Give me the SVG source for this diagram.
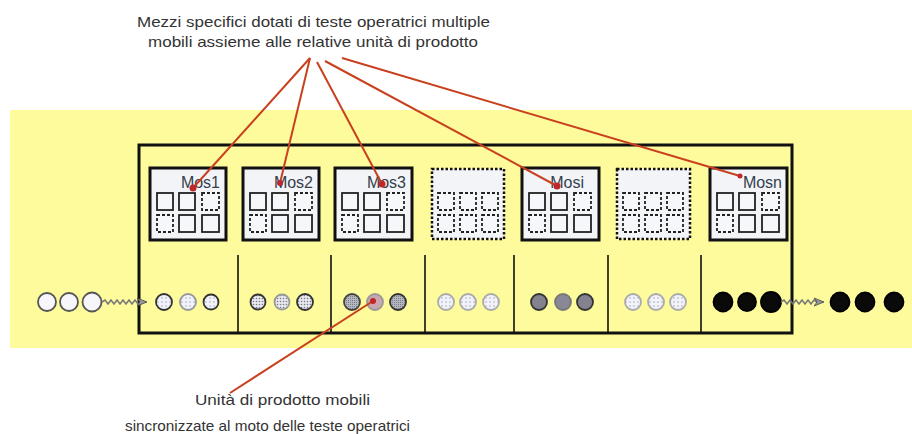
<svg xmlns="http://www.w3.org/2000/svg" width="912" height="434" viewBox="0 0 912 434">
<defs>
<style>
.t{font-family:"Liberation Sans",Arial,sans-serif;font-size:15px;fill:#333}
.lbl{font-family:"Liberation Sans",Arial,sans-serif;font-size:16px;fill:#34404c}
.mos{fill:#f3f4f8;stroke:#111;stroke-width:3}
.mosd{fill:#f3f4f8;stroke:#111;stroke-width:2.5;stroke-dasharray:2.5 2}
.sq{fill:#f6f7fa;stroke:#222;stroke-width:1.8}
.sqd{fill:#f6f7fa;stroke:#222;stroke-width:1.8;stroke-dasharray:3 2}
.red{stroke:#c8401e;stroke-width:2;fill:none}
.dot{fill:#c02828}
.div{stroke:#111;stroke-width:1.6}
</style>
<pattern id="pDot" width="4" height="4" patternUnits="userSpaceOnUse"><rect width="4" height="4" fill="#f2f2fa"/><circle cx="2" cy="2" r="0.7" fill="#9a9ab0"/></pattern>
<pattern id="pDot2" width="3" height="3" patternUnits="userSpaceOnUse"><rect width="3" height="3" fill="#e8e8ee"/><circle cx="1.5" cy="1.5" r="0.8" fill="#7a7a88"/></pattern>
<pattern id="pGrid" width="2" height="2" patternUnits="userSpaceOnUse"><rect width="2" height="2" fill="#b4b6c0"/><rect width="1" height="1" fill="#7c7e88"/></pattern>
<marker id="ah" viewBox="0 0 10 10" refX="9" refY="5" markerWidth="10" markerHeight="10" orient="auto" markerUnits="userSpaceOnUse"><path d="M0,1 L10,5 L0,9 L3,5 Z" fill="#9a9a9a" stroke="#444" stroke-width="0.8"/></marker>
</defs>
<rect width="912" height="434" fill="#ffffff"/>
<rect x="10" y="110" width="902" height="238" fill="#fdfb9c"/>

<g id="top-label">
<text class="t" x="137" y="27" textLength="353" lengthAdjust="spacingAndGlyphs">Mezzi specifici dotati di teste operatrici multiple</text>
<text class="t" x="148" y="47" textLength="330" lengthAdjust="spacingAndGlyphs">mobili assieme alle relative unità di prodotto</text>
</g>
<g id="bottom-label">
<text class="t" x="195" y="405" textLength="175" lengthAdjust="spacingAndGlyphs">Unità di prodotto mobili</text>
<text class="t" x="125" y="431" textLength="285" lengthAdjust="spacingAndGlyphs">sincronizzate al moto delle teste operatrici</text>
</g>

<g id="station-frame">
<rect x="139" y="145" width="653" height="188" fill="none" stroke="#111" stroke-width="3"/>
<line class="div" x1="238" y1="255" x2="238" y2="333"/>
<line class="div" x1="331" y1="255" x2="331" y2="333"/>
<line class="div" x1="425" y1="255" x2="425" y2="333"/>
<line class="div" x1="514" y1="255" x2="514" y2="333"/>
<line class="div" x1="608" y1="255" x2="608" y2="333"/>
<line class="div" x1="701" y1="255" x2="701" y2="333"/>
</g>

<g id="mos1">
<rect class="mos" x="150" y="168" width="76" height="72"/>
<text class="lbl" x="220" y="188" text-anchor="end">Mos1</text>
<rect class="sq" x="157" y="193" width="16" height="17"/><rect class="sq" x="179" y="193" width="16" height="17"/><rect class="sqd" x="202" y="193" width="17" height="17"/>
<rect class="sqd" x="157" y="215" width="16" height="17"/><rect class="sq" x="179" y="215" width="16" height="17"/><rect class="sq" x="202" y="215" width="17" height="17"/>
</g>
<g id="mos2">
<rect class="mos" x="243" y="168" width="76" height="72"/>
<text class="lbl" x="313" y="188" text-anchor="end">Mos2</text>
<rect class="sq" x="250" y="193" width="16" height="17"/><rect class="sq" x="272" y="193" width="16" height="17"/><rect class="sqd" x="295" y="193" width="17" height="17"/>
<rect class="sqd" x="250" y="215" width="16" height="17"/><rect class="sq" x="272" y="215" width="16" height="17"/><rect class="sq" x="295" y="215" width="17" height="17"/>
</g>
<g id="mos3">
<rect class="mos" x="335" y="168" width="77" height="72"/>
<text class="lbl" x="406" y="188" text-anchor="end">Mos3</text>
<rect class="sq" x="342" y="193" width="16" height="17"/><rect class="sq" x="364" y="193" width="16" height="17"/><rect class="sqd" x="387" y="193" width="17" height="17"/>
<rect class="sqd" x="342" y="215" width="16" height="17"/><rect class="sq" x="364" y="215" width="16" height="17"/><rect class="sq" x="387" y="215" width="17" height="17"/>
</g>
<g id="slot4">
<rect class="mosd" x="432" y="169" width="72" height="70"/>
<rect class="sqd" x="438" y="193" width="16" height="17"/><rect class="sqd" x="460" y="193" width="16" height="17"/><rect class="sqd" x="482" y="193" width="16" height="17"/>
<rect class="sqd" x="438" y="215" width="16" height="17"/><rect class="sqd" x="460" y="215" width="16" height="17"/><rect class="sqd" x="482" y="215" width="16" height="17"/>
</g>
<g id="mosi">
<rect class="mos" x="522" y="168" width="77" height="72"/>
<text class="lbl" x="584" y="188" text-anchor="end">Mosi</text>
<rect class="sq" x="529" y="193" width="16" height="17"/><rect class="sq" x="551" y="193" width="16" height="17"/><rect class="sqd" x="574" y="193" width="17" height="17"/>
<rect class="sqd" x="529" y="215" width="16" height="17"/><rect class="sq" x="551" y="215" width="16" height="17"/><rect class="sq" x="574" y="215" width="17" height="17"/>
</g>
<g id="slot6">
<rect class="mosd" x="617" y="169" width="73" height="70"/>
<rect class="sqd" x="623" y="193" width="16" height="17"/><rect class="sqd" x="645" y="193" width="16" height="17"/><rect class="sqd" x="667" y="193" width="16" height="17"/>
<rect class="sqd" x="623" y="215" width="16" height="17"/><rect class="sqd" x="645" y="215" width="16" height="17"/><rect class="sqd" x="667" y="215" width="16" height="17"/>
</g>
<g id="mosn">
<rect class="mos" x="710" y="168" width="77" height="72"/>
<text class="lbl" x="782" y="188" text-anchor="end">Mosn</text>
<rect class="sq" x="717" y="193" width="16" height="17"/><rect class="sq" x="739" y="193" width="16" height="17"/><rect class="sqd" x="762" y="193" width="17" height="17"/>
<rect class="sqd" x="717" y="215" width="16" height="17"/><rect class="sq" x="739" y="215" width="16" height="17"/><rect class="sq" x="762" y="215" width="17" height="17"/>
</g>

<g id="products">
<g stroke-width="1.8">
<circle cx="47" cy="302" r="9" fill="#f6f6fb" stroke="#555"/>
<circle cx="69" cy="302" r="9" fill="#f6f6fb" stroke="#555"/>
<circle cx="92" cy="302" r="9.5" fill="#f6f6fb" stroke="#555"/>

<circle cx="164" cy="302" r="8" fill="url(#pDot)" stroke="#333"/>
<circle cx="188" cy="302" r="8" fill="url(#pDot)" stroke="#999"/>
<circle cx="211" cy="302" r="7.5" fill="url(#pDot)" stroke="#333"/>

<circle cx="258" cy="302" r="7.5" fill="url(#pDot2)" stroke="#333"/>
<circle cx="282" cy="302" r="7.5" fill="url(#pDot2)" stroke="#999"/>
<circle cx="305" cy="302" r="8" fill="url(#pDot2)" stroke="#333"/>

<circle cx="352" cy="302" r="8" fill="url(#pGrid)" stroke="#444"/>
<circle cx="375" cy="302" r="8" fill="#c8a8b0" stroke="#999"/>
<circle cx="398" cy="302" r="8" fill="url(#pGrid)" stroke="#333"/>

<circle cx="446" cy="302" r="8" fill="url(#pDot)" stroke="#aaa"/>
<circle cx="468" cy="302" r="8" fill="url(#pDot)" stroke="#aaa"/>
<circle cx="491" cy="302" r="8" fill="url(#pDot)" stroke="#aaa"/>

<circle cx="539" cy="302" r="8" fill="#84828e" stroke="#333"/>
<circle cx="563" cy="302" r="8" fill="#8a8896" stroke="#777"/>
<circle cx="585" cy="302" r="8" fill="#84828e" stroke="#333"/>

<circle cx="633" cy="302" r="8" fill="url(#pDot)" stroke="#aaa"/>
<circle cx="656" cy="302" r="8" fill="url(#pDot)" stroke="#aaa"/>
<circle cx="678" cy="302" r="8" fill="url(#pDot)" stroke="#aaa"/>

<circle cx="723" cy="302" r="9.5" fill="#0a0a0a" stroke="#000"/>
<circle cx="747" cy="302" r="9" fill="#0a0a0a" stroke="#000"/>
<circle cx="771" cy="302" r="10" fill="#0a0a0a" stroke="#000"/>

<circle cx="840" cy="302" r="9.5" fill="#0a0a0a" stroke="#000"/>
<circle cx="865" cy="302" r="9.5" fill="#0a0a0a" stroke="#000"/>
<circle cx="894" cy="302" r="9.5" fill="#0a0a0a" stroke="#000"/>
</g>
</g>

<g id="connectors">
<path d="M102,302 l3,-2 l3,4 l3,-4 l3,4 l3,-4 l3,4 l3,-4 l3,4 l3,-4 l3,4 l3,-4 l3,4 l3,-2 L146,302" fill="none" stroke="#777" stroke-width="1.6" marker-end="url(#ah)"/>
<path d="M781,302 l3,-2 l3,4 l3,-4 l3,4 l3,-4 l3,4 l3,-4 l3,4 l3,-4 l3,4 l3,-4 l3,2 L823,302" fill="none" stroke="#777" stroke-width="1.6" marker-end="url(#ah)"/>
<line class="red" x1="310" y1="58" x2="193" y2="188"/>
<line class="red" x1="310" y1="58" x2="280" y2="183"/>
<line class="red" x1="317" y1="62" x2="382" y2="184"/>
<line class="red" x1="325" y1="61" x2="557" y2="186"/>
<line class="red" x1="342" y1="58" x2="740" y2="176"/>
<line class="red" x1="373" y1="301" x2="230" y2="393"/>
<circle class="dot" cx="193" cy="188" r="3.5"/>
<circle class="dot" cx="280" cy="183" r="3"/>
<circle class="dot" cx="382" cy="184" r="3.5"/>
<circle class="dot" cx="557" cy="186" r="3.5"/>
<circle class="dot" cx="740" cy="176" r="2.5"/>
<circle class="dot" cx="373" cy="301" r="3"/>
</g>
</svg>
